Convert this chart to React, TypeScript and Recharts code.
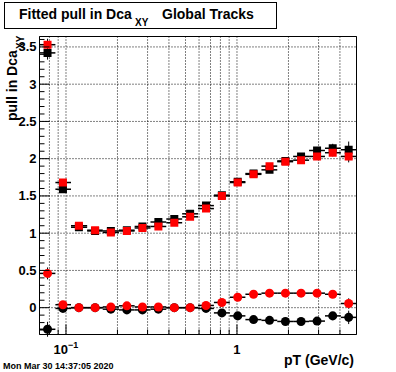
import { ScatterChart, Scatter, XAxis, YAxis, ErrorBar, CartesianGrid, ReferenceLine } from "recharts";

// pT bins (log-spaced) and their centres
const binEdges = [0.07, 0.0867, 0.107, 0.133, 0.164, 0.204, 0.252, 0.312, 0.386, 0.478, 0.592, 0.733, 0.908, 1.12, 1.39, 1.72, 2.13, 2.64, 3.27, 4.05, 5.0];
const ptCenters = [0.078, 0.096, 0.119, 0.148, 0.183, 0.227, 0.28, 0.347, 0.43, 0.532, 0.659, 0.816, 1.01, 1.25, 1.55, 1.92, 2.37, 2.94, 3.63, 4.5];

// fitted sigma of the pull (squares)
const sigmaBlack = [3.42, 1.59, 1.08, 1.03, 1.03, 1.04, 1.09, 1.15, 1.19, 1.26, 1.37, 1.51, 1.69, 1.8, 1.85, 1.97, 2.03, 2.11, 2.14, 2.12];
const sigmaBlackErr = [0.09, 0.03, 0.02, 0.02, 0.02, 0.02, 0.02, 0.02, 0.02, 0.02, 0.02, 0.02, 0.02, 0.02, 0.02, 0.03, 0.03, 0.04, 0.06, 0.11];
const sigmaRed = [3.53, 1.68, 1.1, 1.04, 1.01, 1.03, 1.07, 1.09, 1.14, 1.22, 1.33, 1.5, 1.68, 1.79, 1.9, 1.96, 1.98, 2.03, 2.08, 2.03];
const sigmaRedErr = [0.08, 0.03, 0.02, 0.02, 0.02, 0.02, 0.02, 0.02, 0.02, 0.02, 0.02, 0.02, 0.02, 0.02, 0.02, 0.03, 0.03, 0.04, 0.05, 0.08];

// fitted mean of the pull (circles)
const meanBlack = [-0.29, -0.01, 0.0, 0.0, -0.02, -0.03, -0.03, -0.02, 0.0, 0.0, -0.01, -0.07, -0.11, -0.16, -0.17, -0.185, -0.185, -0.18, -0.11, -0.13];
const meanBlackErr = [0.1, 0.03, 0.02, 0.02, 0.02, 0.02, 0.02, 0.02, 0.02, 0.02, 0.02, 0.02, 0.02, 0.02, 0.02, 0.03, 0.03, 0.04, 0.05, 0.09];
const meanRed = [0.46, 0.04, 0.0, 0.0, 0.01, 0.025, 0.01, 0.01, 0.0, 0.0, 0.03, 0.07, 0.14, 0.18, 0.195, 0.195, 0.195, 0.195, 0.18, 0.056];
const meanRedErr = [0.08, 0.03, 0.02, 0.02, 0.02, 0.02, 0.02, 0.02, 0.02, 0.02, 0.02, 0.02, 0.02, 0.02, 0.02, 0.03, 0.03, 0.04, 0.05, 0.07];

const xTicks = [0.08, 0.09, 0.1, 0.2, 0.3, 0.4, 0.5, 0.6, 0.7, 0.8, 0.9, 1, 2, 3, 4];
const yMajor = [0, 0.5, 1, 1.5, 2, 2.5, 3, 3.5];
const yLabels = ["0", "0.5", "1", "1.5", "2", "2.5", "3", "3.5"];
// minor ticks every 0.1 from -0.3 to 3.6
const yTicks = Array.from({ length: 40 }, (_, i) => Math.round(i - 3) / 10);

const FONT = '"Liberation Sans", Arial, Helvetica, sans-serif';

function series(vals: number[], errs: number[]) {
  return ptCenters.map((x, i) => ({
    x,
    y: vals[i],
    ex: [x - binEdges[i], binEdges[i + 1] - x],
    ey: errs[i],
  }));
}

const renderXTick = (props: any) => {
  const { x, y, payload } = props;
  const v = payload.value;
  const major = v === 0.1 || v === 1;
  return (
    <g key={`xt-${v}`}>
      <line x1={x} x2={x} y1={y} y2={y - (major ? 10 : 5)} stroke="#000" />
      {v === 0.1 && (
        <text x={x} y={y + 19} textAnchor="middle" fontFamily={FONT} fontWeight="bold" fontSize={13} fill="#000">
          10<tspan dy={-6} fontSize={9}>−1</tspan>
        </text>
      )}
      {v === 1 && (
        <text x={x} y={y + 19} textAnchor="middle" fontFamily={FONT} fontWeight="bold" fontSize={13} fill="#000">
          1
        </text>
      )}
    </g>
  );
};

const renderYTick = (props: any) => {
  const { x, y, payload } = props;
  const idx = yMajor.findIndex((m) => Math.abs(m - payload.value) < 1e-6);
  return (
    <g key={`yt-${payload.value}`}>
      <line x1={x} x2={x + (idx >= 0 ? 10 : 5)} y1={y} y2={y} stroke="#000" />
      {idx >= 0 && (
        <text x={x - 3} y={y + 4.5} textAnchor="end" fontFamily={FONT} fontWeight="bold" fontSize={13} fill="#000">
          {yLabels[idx]}
        </text>
      )}
    </g>
  );
};

export default function App() {
  const txt = { fontFamily: FONT, fontWeight: "bold" as const, fill: "#000" };
  return (
    <div style={{ position: "absolute", left: 0, top: 0, width: 396, height: 372, background: "#fff" }}>
      <div style={{ position: "absolute", left: 0, top: 0 }}>
        <ScatterChart width={396} height={372} margin={{ top: 0.5, right: 0.5, bottom: 0.5, left: 0.5 }}>
          <CartesianGrid horizontal={false} stroke="#000" strokeDasharray="1 2" />
          {yMajor.map((v) => (
            <ReferenceLine key={v} y={v} stroke="#000" strokeDasharray="1 2" />
          ))}
          <XAxis
            dataKey="x"
            type="number"
            scale="log"
            domain={[0.07, 5]}
            allowDataOverflow
            ticks={xTicks}
            interval={0}
            height={37}
            tickSize={0}
            tickMargin={0}
            tickLine={false}
            tick={renderXTick}
            axisLine={{ stroke: "#000" }}
          />
          <XAxis xAxisId="top" orientation="top" type="number" scale="log" domain={[0.07, 5]} allowDataOverflow height={36} tick={false} tickLine={false} axisLine={{ stroke: "#000" }} />
          <YAxis
            dataKey="y"
            type="number"
            domain={[-0.36, 3.64]}
            allowDataOverflow
            ticks={yTicks}
            interval={0}
            width={39}
            tickSize={0}
            tickMargin={0}
            tickLine={false}
            tick={renderYTick}
            axisLine={{ stroke: "#000" }}
          />
          <YAxis yAxisId="right" orientation="right" type="number" domain={[-0.36, 3.64]} allowDataOverflow width={39} tick={false} tickLine={false} axisLine={{ stroke: "#000" }} />
          <Scatter data={series(sigmaBlack, sigmaBlackErr)} shape="square" fill="#000" isAnimationActive={false}>
            <ErrorBar dataKey="ex" direction="x" width={0} stroke="#000" strokeWidth={1.5} />
            <ErrorBar dataKey="ey" direction="y" width={0} stroke="#000" strokeWidth={1} />
          </Scatter>
          <Scatter data={series(meanBlack, meanBlackErr)} shape="circle" fill="#000" isAnimationActive={false}>
            <ErrorBar dataKey="ex" direction="x" width={0} stroke="#000" strokeWidth={1.5} />
            <ErrorBar dataKey="ey" direction="y" width={0} stroke="#000" strokeWidth={1} />
          </Scatter>
          <Scatter data={series(sigmaRed, sigmaRedErr)} shape="square" fill="#ff0000" isAnimationActive={false}>
            <ErrorBar dataKey="ex" direction="x" width={0} stroke="#000" strokeWidth={1.5} />
            <ErrorBar dataKey="ey" direction="y" width={0} stroke="#000" strokeWidth={1} />
          </Scatter>
          <Scatter data={series(meanRed, meanRedErr)} shape="circle" fill="#ff0000" isAnimationActive={false}>
            <ErrorBar dataKey="ex" direction="x" width={0} stroke="#000" strokeWidth={1.5} />
            <ErrorBar dataKey="ey" direction="y" width={0} stroke="#000" strokeWidth={1} />
          </Scatter>
        </ScatterChart>
      </div>
      <svg width={396} height={372} style={{ position: "absolute", left: 0, top: 0, pointerEvents: "none" }}>
        <rect x={4.5} y={2.5} width={272} height={26} fill="#fff" stroke="#000" />
        <text x={19} y={18.5} fontSize={14} {...txt}>Fitted pull in Dca</text>
        <text x={135} y={26} fontSize={10} {...txt}>XY</text>
        <text x={162} y={18.5} fontSize={14} {...txt}>Global Tracks</text>
        <text transform="translate(17,121) rotate(-90)" fontSize={14} {...txt}>pull in Dca</text>
        <text transform="translate(24,49) rotate(-90)" fontSize={10} {...txt}>XY</text>
        <text x={354} y={365} textAnchor="end" fontSize={14} {...txt}>pT (GeV/c)</text>
        <text x={3} y={369} fontSize={9} {...txt}>Mon Mar 30 14:37:05 2020</text>
      </svg>
    </div>
  );
}
